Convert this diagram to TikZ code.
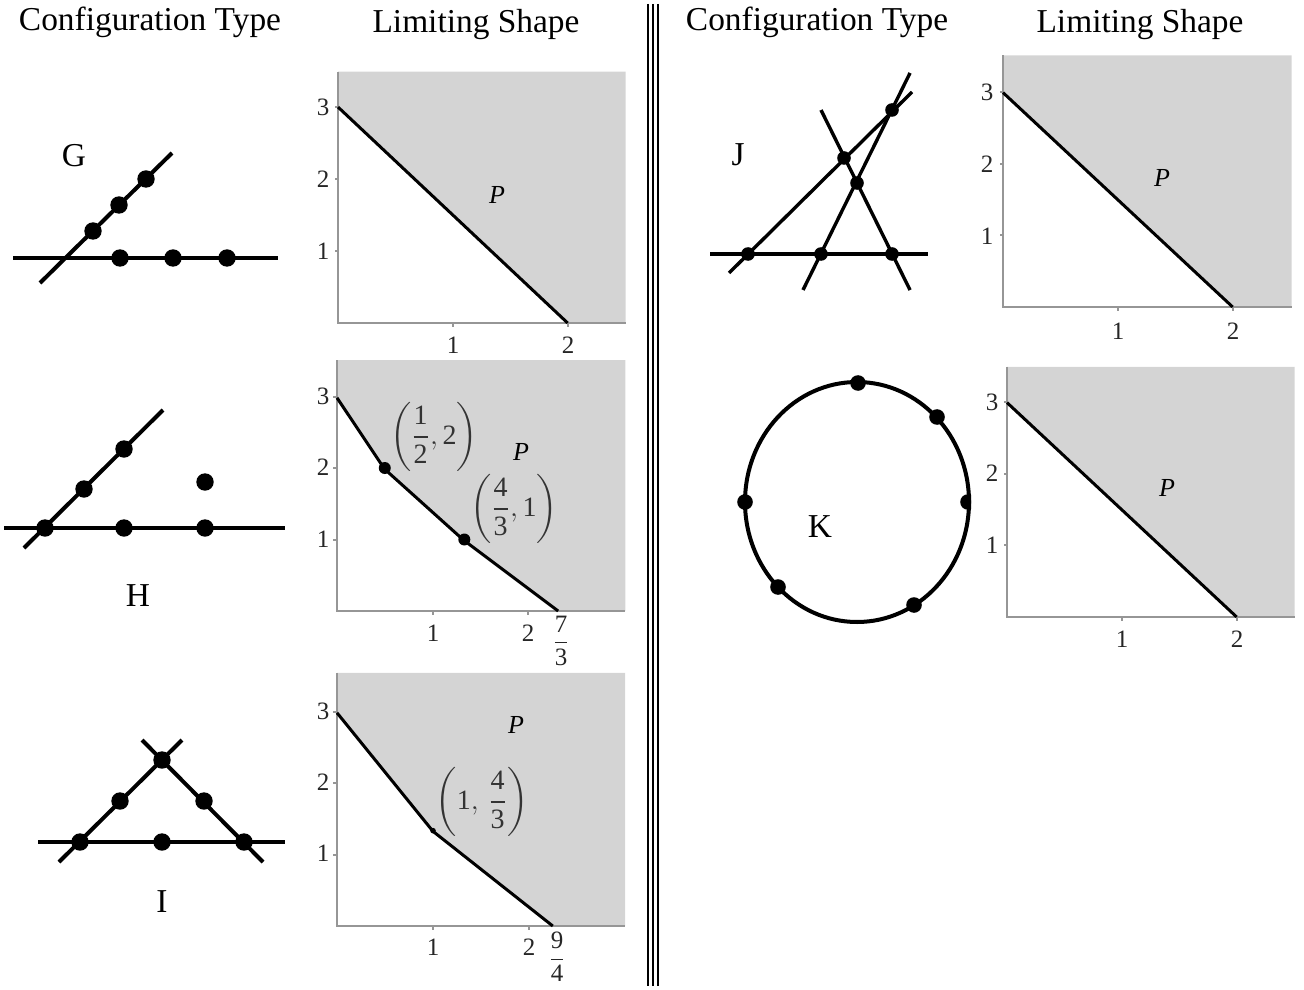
\documentclass[tikz,border=0pt]{standalone}
\usepackage{amsmath}
\usepackage{fontspec}
\setmainfont{Liberation Serif}
\definecolor{shadegray}{RGB}{212,212,212}
\definecolor{axisgray}{RGB}{150,150,150}
\newcommand{\tx}[1]{\text{#1}}
\begin{document}
\begin{tikzpicture}[x=0.5pt,y=-0.5pt,
  hdr/.style={font=\fontsize{16.7}{20}\selectfont, inner sep=0pt},
  cfglbl/.style={font=\fontsize{16.7}{20}\selectfont, inner sep=0pt},
  ticklbl/.style={font=\fontsize{12.5}{14}\selectfont, text=black!85, inner sep=0pt},
  plbl/.style={font=\fontsize{13}{15}\selectfont\itshape, inner sep=0pt},
  ptlbl/.style={font=\fontsize{14}{16}\selectfont, text=black!80, inner sep=0pt},
  cfgline/.style={line width=2pt},
  jline/.style={line width=1.7pt},
  bigdot/.style={circle, fill=black, inner sep=0pt, minimum size=8.7pt},
  jdot/.style={circle, fill=black, inner sep=0pt, minimum size=6.8pt},
  kdot/.style={circle, fill=black, inner sep=0pt, minimum size=7.8pt},
  pdot/.style={circle, fill=black, inner sep=0pt, minimum size=6pt},
  sdot/.style={circle, fill=black, inner sep=0pt, minimum size=2.8pt},
  shadefill/.style={fill=shadegray},
  axisline/.style={draw=axisgray, line width=1pt},
  curveline/.style={draw=black, line width=1.5pt, line join=round},
  sepline/.style={draw=black, line width=1pt}
]
\useasboundingbox (0,0) rectangle (1304,989);

% ---------- headers ----------
\node[hdr] (h1) at (150,22) {Configuration Type};
\node[hdr] (h2) at (476,25) {Limiting Shape};
\node[hdr] (h3) at (817,22) {Configuration Type};
\node[hdr] (h4) at (1140,25) {Limiting Shape};

% ---------- separator ----------
\coordinate (s1t) at (648,4);  \coordinate (s1b) at (648,986);
\coordinate (s2t) at (653,4);  \coordinate (s2b) at (653,986);
\coordinate (s3t) at (658,4);  \coordinate (s3b) at (658,986);
\draw[sepline] (s1t) -- (s1b);
\draw[sepline] (s2t) -- (s2b);
\draw[sepline] (s3t) -- (s3b);

% ---------- configuration G ----------
\coordinate (gh1) at (13,258); \coordinate (gh2) at (278,258);
\coordinate (gd1) at (40,283); \coordinate (gd2) at (172,153);
\draw[cfgline] (gh1) -- (gh2);
\draw[cfgline] (gd1) -- (gd2);
\node[bigdot] (g1) at (120,258) {};
\node[bigdot] (g2) at (173,258) {};
\node[bigdot] (g3) at (227,258) {};
\node[bigdot] (g4) at (93,231) {};
\node[bigdot] (g5) at (119,205) {};
\node[bigdot] (g6) at (146,179) {};
\node[cfglbl] (gl) at (74,156) {G};

% ---------- configuration H ----------
\coordinate (hh1) at (4,528); \coordinate (hh2) at (285,528);
\coordinate (hd1) at (24,548); \coordinate (hd2) at (163,410);
\draw[cfgline] (hh1) -- (hh2);
\draw[cfgline] (hd1) -- (hd2);
\node[bigdot] (hp1) at (45,528) {};
\node[bigdot] (hp2) at (124,528) {};
\node[bigdot] (hp3) at (205,528) {};
\node[bigdot] (hp4) at (205,482) {};
\node[bigdot] (hp5) at (84,489) {};
\node[bigdot] (hp6) at (124,449) {};
\node[cfglbl] (hl) at (138,596) {H};

% ---------- configuration I ----------
\coordinate (ih1) at (38,842); \coordinate (ih2) at (285,842);
\coordinate (il1) at (59,862); \coordinate (il2) at (182,740);
\coordinate (ir1) at (142,740); \coordinate (ir2) at (263,862);
\draw[cfgline] (ih1) -- (ih2);
\draw[cfgline] (il1) -- (il2);
\draw[cfgline] (ir1) -- (ir2);
\node[bigdot] (ip1) at (80,842) {};
\node[bigdot] (ip2) at (162,842) {};
\node[bigdot] (ip3) at (244,842) {};
\node[bigdot] (ip4) at (120,801) {};
\node[bigdot] (ip5) at (204,801) {};
\node[bigdot] (ip6) at (162,760) {};
\node[cfglbl] (ilbl) at (162,902) {I};

% ---------- configuration J ----------
\coordinate (jh1) at (710,254); \coordinate (jh2) at (928,254);
\coordinate (ja1) at (729,273); \coordinate (ja2) at (912,92);
\coordinate (jb1) at (803,290); \coordinate (jb2) at (910,73);
\coordinate (jc1) at (821,110); \coordinate (jc2) at (910,290);
\draw[jline] (jh1) -- (jh2);
\draw[jline] (ja1) -- (ja2);
\draw[jline] (jb1) -- (jb2);
\draw[jline] (jc1) -- (jc2);
\node[jdot] (jp1) at (748,254) {};
\node[jdot] (jp2) at (821,254) {};
\node[jdot] (jp3) at (892,254) {};
\node[jdot] (jp4) at (844,158) {};
\node[jdot] (jp5) at (857,183) {};
\node[jdot] (jp6) at (892,110) {};
\node[cfglbl] (jl) at (738,155) {J};

% ---------- configuration K ----------
\coordinate (kc) at (857,502);
\draw[cfgline] (kc) ellipse [x radius=112, y radius=120];
\node[kdot] (kp1) at (858,383) {};
\node[kdot] (kp2) at (937,417) {};
\node[kdot] (kp3) at (745,502) {};
\node[kdot] (kp4) at (778,587) {};
\node[kdot] (kp5) at (914,605) {};
\begin{scope}
  \clip (950,480) rectangle (971,524);
  \node[kdot] (kp6) at (968,502) {};
\end{scope}
\node[cfglbl] (kl) at (820,527) {K};

% ---------- plot G ----------
\begin{scope}[shift={(338,323)}, xscale=115, yscale=-72]
  \fill[shadefill] (0,3) -- (2,0) -- (2.5,0) -- (2.5,3.49) -- (0,3.49) -- cycle;
  \draw[axisline] (0,3.49) -- (0,0) -- (2.5,0);
  \foreach \t in {1,2,3} \draw[axisline] (0,\t) -- (-0.03,\t);
  \foreach \t in {1,2} \draw[axisline] (\t,0) -- (\t,-0.05);
  \coordinate (ga) at (0,3); \coordinate (gb) at (2,0);
  \draw[curveline] (ga) -- (gb);
\end{scope}
\node[ticklbl] (gy3) at (323,107) {3};
\node[ticklbl] (gy2) at (323,179) {2};
\node[ticklbl] (gy1) at (323,251) {1};
\node[ticklbl] (gx1) at (453,345) {1};
\node[ticklbl] (gx2) at (568,345) {2};
\node[plbl] (gP) at (497,195) {P};

% ---------- plot H ----------
\begin{scope}[shift={(337,611)}, xscale=95.5, yscale=-71.5]
  \fill[shadefill] (0,3) -- (0.5,2) -- (4/3,1) -- (7/3,0) -- (3.02,0) -- (3.02,3.51) -- (0,3.51) -- cycle;
  \draw[axisline] (0,3.51) -- (0,0) -- (3.02,0);
  \foreach \t in {1,2,3} \draw[axisline] (0,\t) -- (-0.04,\t);
  \foreach \t in {1,2} \draw[axisline] (\t,0) -- (\t,-0.05);
  \coordinate (ha) at (0,3); \coordinate (hc) at (7/3,0);
  \node[pdot] (hb1) at (0.5,2) {};
  \node[pdot] (hb2) at (4/3,1) {};
  \draw[curveline] (ha) -- (hb1.center) -- (hb2.center) -- (hc);
\end{scope}
\node[ticklbl] (hy3) at (323,396) {3};
\node[ticklbl] (hy2) at (323,467) {2};
\node[ticklbl] (hy1) at (323,539) {1};
\node[ticklbl] (hx1) at (433,633) {1};
\node[ticklbl] (hx2) at (528,633) {2};
\node[ticklbl] (hx73) at (561,641) {$\dfrac{\tx{7}}{\tx{3}}$};
\node[plbl] (hP) at (521,452) {P};
\node[ptlbl] (hq1) at (434,437) {$\left(\dfrac{\tx{1}}{\tx{2}},\tx{2}\right)$};
\node[ptlbl] (hq2) at (514,509) {$\left(\dfrac{\tx{4}}{\tx{3}},\tx{1}\right)$};

% ---------- plot I ----------
\begin{scope}[shift={(337,926)}, xscale=96, yscale=-71.5]
  \fill[shadefill] (0,3) -- (1,4/3) -- (9/4,0) -- (3.0,0) -- (3.0,3.54) -- (0,3.54) -- cycle;
  \draw[axisline] (0,3.54) -- (0,0) -- (3.0,0);
  \foreach \t in {1,2,3} \draw[axisline] (0,\t) -- (-0.04,\t);
  \foreach \t in {1,2} \draw[axisline] (\t,0) -- (\t,-0.05);
  \coordinate (ia) at (0,3); \coordinate (ic) at (9/4,0);
  \node[sdot] (ib) at (1,4/3) {};
  \draw[curveline] (ia) -- (ib.center) -- (ic);
\end{scope}
\node[ticklbl] (iy3) at (323,711) {3};
\node[ticklbl] (iy2) at (323,782) {2};
\node[ticklbl] (iy1) at (323,853) {1};
\node[ticklbl] (ix1) at (433,947) {1};
\node[ticklbl] (ix2) at (529,947) {2};
\node[ticklbl] (ix94) at (557,957) {$\dfrac{\tx{9}}{\tx{4}}$};
\node[plbl] (iP) at (516,725) {P};
\node[ptlbl] (iq) at (482,802) {$\left(\tx{1},\,\dfrac{\tx{4}}{\tx{3}}\right)$};

% ---------- plot J ----------
\begin{scope}[shift={(1003,307)}, xscale=115, yscale=-71.7]
  \fill[shadefill] (0,3) -- (2,0) -- (2.51,0) -- (2.51,3.51) -- (0,3.51) -- cycle;
  \draw[axisline] (0,3.51) -- (0,0) -- (2.51,0);
  \foreach \t in {1,2,3} \draw[axisline] (0,\t) -- (-0.03,\t);
  \foreach \t in {1,2} \draw[axisline] (\t,0) -- (\t,-0.05);
  \coordinate (ja) at (0,3); \coordinate (jb) at (2,0);
  \draw[curveline] (ja) -- (jb);
\end{scope}
\node[ticklbl] (jy3) at (987,92) {3};
\node[ticklbl] (jy2) at (987,164) {2};
\node[ticklbl] (jy1) at (987,236) {1};
\node[ticklbl] (jx1) at (1118,331) {1};
\node[ticklbl] (jx2) at (1233,331) {2};
\node[plbl] (jP) at (1162,178) {P};

% ---------- plot K ----------
\begin{scope}[shift={(1007,617)}, xscale=115, yscale=-71.7]
  \fill[shadefill] (0,3) -- (2,0) -- (2.5,0) -- (2.5,3.49) -- (0,3.49) -- cycle;
  \draw[axisline] (0,3.49) -- (0,0) -- (2.5,0);
  \foreach \t in {1,2,3} \draw[axisline] (0,\t) -- (-0.03,\t);
  \foreach \t in {1,2} \draw[axisline] (\t,0) -- (\t,-0.05);
  \coordinate (ka) at (0,3); \coordinate (kb) at (2,0);
  \draw[curveline] (ka) -- (kb);
\end{scope}
\node[ticklbl] (ky3) at (992,402) {3};
\node[ticklbl] (ky2) at (992,473) {2};
\node[ticklbl] (ky1) at (992,545) {1};
\node[ticklbl] (kx1) at (1122,639) {1};
\node[ticklbl] (kx2) at (1237,639) {2};
\node[plbl] (kP) at (1167,488) {P};
\end{tikzpicture}
\end{document}
